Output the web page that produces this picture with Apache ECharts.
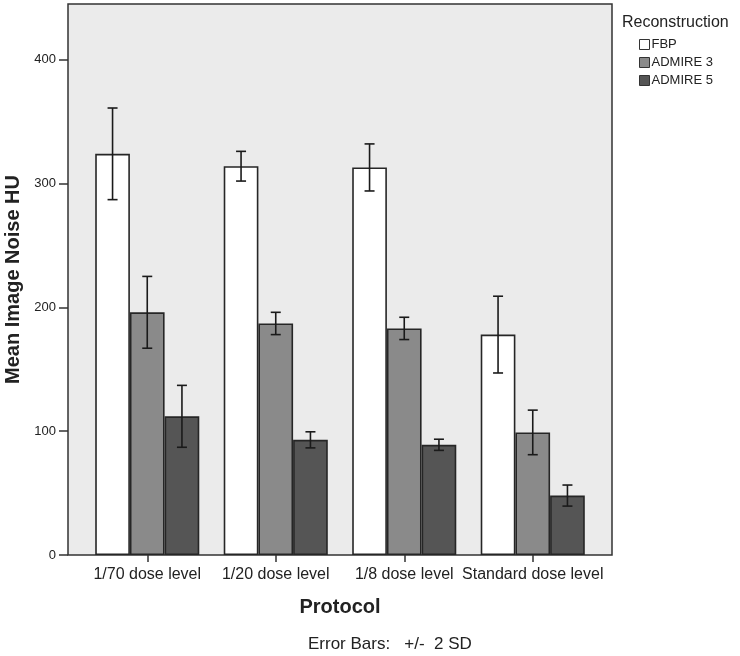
<!DOCTYPE html>
<html>
<head>
<meta charset="utf-8">
<script src="https://cdn.jsdelivr.net/npm/echarts@6/dist/echarts.min.js"></script>
<style>html,body{margin:0;padding:0;background:#fff}#c{width:740px;height:656px}</style>
</head>
<body>
<div id="c"></div>
<script>
const categories = ['1/70 dose level', '1/20 dose level', '1/8 dose level', 'Standard dose level'];
const seriesNames = ['FBP', 'ADMIRE 3', 'ADMIRE 5'];
const fbpMean = [324, 314, 313, 178];
const admire3Mean = [196, 187, 183, 99];
const admire5Mean = [112, 93, 89, 48];
const fbpErr = [37, 12, 19, 31];
const admire3Err = [29, 9, 9, 18];
const admire5Err = [25, 6.5, 4.5, 8.5];
const yTicks = [0, 100, 200, 300, 400];

const means = [fbpMean, admire3Mean, admire5Mean];
const errs = [fbpErr, admire3Err, admire5Err];
const colors = ['#ffffff', '#8a8a8a', '#555555'];
const GAP = 0.19;

const chart = echarts.init(document.getElementById('c'));
const FONT = 'Liberation Sans, Arial, sans-serif';

const barSeries = seriesNames.map((n, i) => ({
  name: n, type: 'bar', data: means[i], barGap: '0%', barCategoryGap: (GAP * 100) + '%',
  itemStyle: { color: colors[i], borderColor: '#262626', borderWidth: 1.6 },
  z: 3
}));

const errSeries = seriesNames.map((n, i) => ({
  type: 'custom', name: n + ' err', z: 5, silent: true,
  data: means[i].map((m, k) => [k, m - errs[i][k], m + errs[i][k]]),
  renderItem: function (params, api) {
    const band = api.size([1, 0])[0];
    const bw = band * (1 - GAP) / 3;
    const off = (i - 1) * bw;
    const lo = api.coord([api.value(0), api.value(1)]);
    const hi = api.coord([api.value(0), api.value(2)]);
    const x = lo[0] + off;
    const cap = 5;
    const st = { stroke: '#1a1a1a', lineWidth: 1.6 };
    return { type: 'group', children: [
      { type: 'line', shape: { x1: x, y1: lo[1], x2: x, y2: hi[1] }, style: st },
      { type: 'line', shape: { x1: x - cap, y1: lo[1], x2: x + cap, y2: lo[1] }, style: st },
      { type: 'line', shape: { x1: x - cap, y1: hi[1], x2: x + cap, y2: hi[1] }, style: st }
    ]};
  }
}));

chart.setOption({
  animation: false,
  textStyle: { fontFamily: FONT },
  title: { text: 'Reconstruction', left: 617, top: 10, textStyle: { fontSize: 16, fontWeight: 'normal', color: '#222', fontFamily: FONT } },
  legend: {
    data: seriesNames, orient: 'vertical', left: 634, top: 33, itemWidth: 10, itemHeight: 10, itemGap: 5,
    icon: 'rect', textStyle: { fontSize: 13, color: '#222', padding: [0, 0, 0, -3] },
    itemStyle: { borderColor: '#333', borderWidth: 1 }
  },
  graphic: [
    { type: 'rect', z: -10, shape: { x: 68, y: 4, width: 544, height: 551 }, style: { fill: '#ebebeb', stroke: '#333', lineWidth: 1.5 } },
    { type: 'text', left: 308, top: 636, style: { text: 'Error Bars:   +/-  2 SD', fontSize: 17, fill: '#222', fontFamily: FONT } }
  ],
  grid: { left: 83, right: 143, top: 4, bottom: 101, outerBoundsMode: 'none', containLabel: false },
  xAxis: {
    type: 'category', data: categories,
    axisLine: { show: false },
    axisTick: { show: true, alignWithLabel: true, length: 7, lineStyle: { color: '#333', width: 1.5 } },
    axisLabel: { fontSize: 16, color: '#222', margin: 12, interval: 0 },
    name: 'Protocol', nameLocation: 'middle', nameGap: 42,
    nameTextStyle: { fontSize: 20, fontWeight: 'bold', color: '#222' }
  },
  yAxis: {
    type: 'value', min: 0, max: 445, interval: 100, offset: 15,
    axisLine: { show: false },
    axisTick: { show: true, length: 9, customValues: yTicks, lineStyle: { color: '#333', width: 1.5 } },
    axisLabel: { fontSize: 13, color: '#222', margin: 12, customValues: yTicks },
    splitLine: { show: false },
    name: 'Mean Image Noise HU', nameLocation: 'middle', nameGap: 42,
    nameTextStyle: { fontSize: 20, fontWeight: 'bold', color: '#222' }
  },
  series: barSeries.concat(errSeries)
});
</script>
</body>
</html>
